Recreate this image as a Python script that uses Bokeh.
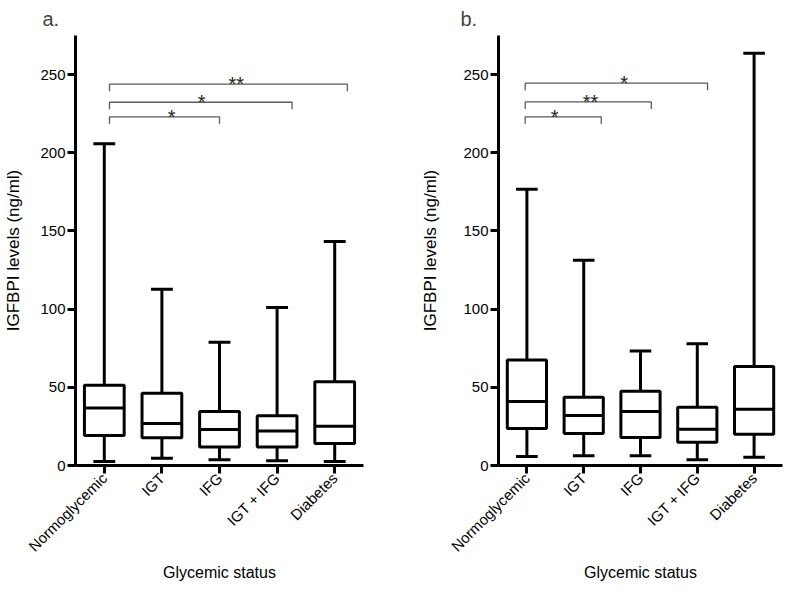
import math
from bokeh.plotting import figure
from bokeh.models import ColumnDataSource, Range1d, FixedTicker
from bokeh.layouts import row
from bokeh.embed import file_html
from bokeh.resources import INLINE
from bokeh.core.properties import value

# ---------------- data ----------------
categories = ["Normoglycemic", "IGT", "IFG", "IGT + IFG", "Diabetes"]

# panel a
a_min = [2.5, 4.6, 3.6, 3.0, 2.5]
a_q1 = [19.2, 17.7, 11.8, 11.8, 14.1]
a_med = [36.7, 26.8, 23.0, 22.0, 25.1]
a_q3 = [51.3, 46.2, 34.6, 31.8, 53.6]
a_max = [205.7, 112.7, 78.9, 101.0, 143.2]

# panel b
b_min = [5.7, 6.3, 6.3, 3.6, 5.3]
b_q1 = [23.6, 20.4, 17.9, 14.8, 20.0]
b_med = [41.0, 32.0, 34.6, 23.2, 35.9]
b_q3 = [67.5, 43.7, 47.5, 37.3, 63.3]
b_max = [176.6, 131.2, 73.2, 77.8, 263.7]

# significance brackets (x start, x end, height, label, label x)
a_br_x0 = [1.09, 1.09, 1.09]
a_br_x1 = [3.00, 4.26, 5.22]
a_br_y = [223.0, 232.3, 243.9]
a_br_lab = ["*", "*", "**"]
a_br_lx = [2.17, 2.69, 3.29]

b_br_x0 = [0.97, 0.97, 0.97]
b_br_x1 = [2.31, 3.19, 4.18]
b_br_y = [223.0, 232.5, 244.5]
b_br_lab = ["*", "**", "*"]
b_br_lx = [1.49, 2.12, 2.71]

y_ticks = [0, 50, 100, 150, 200, 250]
FONT = "Liberation Sans"


def make_panel(letter, mins, q1, med, q3, maxs, bx0, bx1, by, blab, blx,
               border_left, border_right, letter_offset, ylab_standoff, width):
    p = figure(width=width, height=583, output_backend="svg", toolbar_location=None,
               x_range=Range1d(0.5, 5.5), y_range=Range1d(0, 275),
               min_border_left=border_left, min_border_right=border_right,
               min_border_top=35, min_border_bottom=118,
               background_fill_color="white", border_fill_color="white")
    p.outline_line_color = None
    p.grid.visible = False

    p.title.text = letter
    p.title.text_font = FONT
    p.title.text_font_size = "20px"
    p.title.text_font_style = "normal"
    p.title.align = "left"
    p.title.offset = letter_offset
    p.title.standoff = 11

    xs = list(range(1, len(categories) + 1))
    bw = 0.69
    cw = 0.19
    src = ColumnDataSource(dict(x=xs, lo=mins, q1=q1, med=med, q3=q3, hi=maxs,
                                xl=[x - bw / 2 for x in xs], xr=[x + bw / 2 for x in xs],
                                cl=[x - cw for x in xs], cr=[x + cw for x in xs]))
    # whiskers
    p.segment(x0="x", y0="q3", x1="x", y1="hi", source=src, line_color="black", line_width=3)
    p.segment(x0="x", y0="lo", x1="x", y1="q1", source=src, line_color="black", line_width=3)
    # caps
    p.segment(x0="cl", y0="hi", x1="cr", y1="hi", source=src, line_color="black", line_width=3)
    p.segment(x0="cl", y0="lo", x1="cr", y1="lo", source=src, line_color="black", line_width=3)
    # boxes
    p.vbar(x="x", width=bw, bottom="q1", top="q3", source=src, fill_color="white",
           line_color="black", line_width=3)
    # medians
    p.segment(x0="xl", y0="med", x1="xr", y1="med", source=src, line_color="black", line_width=3)

    # significance brackets
    drop = 4.5
    bxs = [[a, a, b, b] for a, b in zip(bx0, bx1)]
    bys = [[y - drop, y, y, y - drop] for y in by]
    p.multi_line(xs=bxs, ys=bys, line_color="#5a5a5a", line_width=1.3)
    p.text(x=blx, y=by, text=blab, text_font=value(FONT), text_font_size="20px",
           text_align="center", text_baseline="middle", text_color="#222222")

    # axes
    for ax in (p.xaxis[0], p.yaxis[0]):
        ax.axis_line_width = 3
        ax.axis_line_color = "black"
        ax.major_tick_line_width = 3
        ax.major_tick_line_color = "black"
        ax.major_tick_out = 8
        ax.major_tick_in = 0
        ax.minor_tick_line_color = None
        ax.major_label_text_font = FONT
        ax.major_label_text_font_size = "15px"
        ax.major_label_text_color = "black"
        ax.axis_label_text_font = FONT
        ax.axis_label_text_font_style = "normal"
        ax.axis_label_text_color = "black"
        ax.major_label_standoff = 2

    p.yaxis.ticker = FixedTicker(ticks=y_ticks)
    p.yaxis.axis_label = "IGFBPI levels (ng/ml)"
    p.yaxis.axis_label_text_font_size = "17px"
    p.yaxis.axis_label_standoff = ylab_standoff

    p.xaxis.ticker = FixedTicker(ticks=xs)
    p.xaxis.major_label_overrides = {x: c for x, c in zip(xs, categories)}
    p.xaxis.major_label_orientation = math.pi / 4
    p.xaxis.axis_label = "Glycemic status"
    p.xaxis.axis_label_text_font_size = "16px"
    p.xaxis.axis_label_standoff = 0
    return p


pa = make_panel("a.", a_min, a_q1, a_med, a_q3, a_max,
                a_br_x0, a_br_x1, a_br_y, a_br_lab, a_br_lx, 75, 29, -33, 14, 392)
pb = make_panel("b.", b_min, b_q1, b_med, b_q3, b_max,
                b_br_x0, b_br_x1, b_br_y, b_br_lab, b_br_lx, 106, 2, -38, 20, 392)

layout = row(pa, pb)
open("out.html", "w").write(file_html(layout, INLINE))
